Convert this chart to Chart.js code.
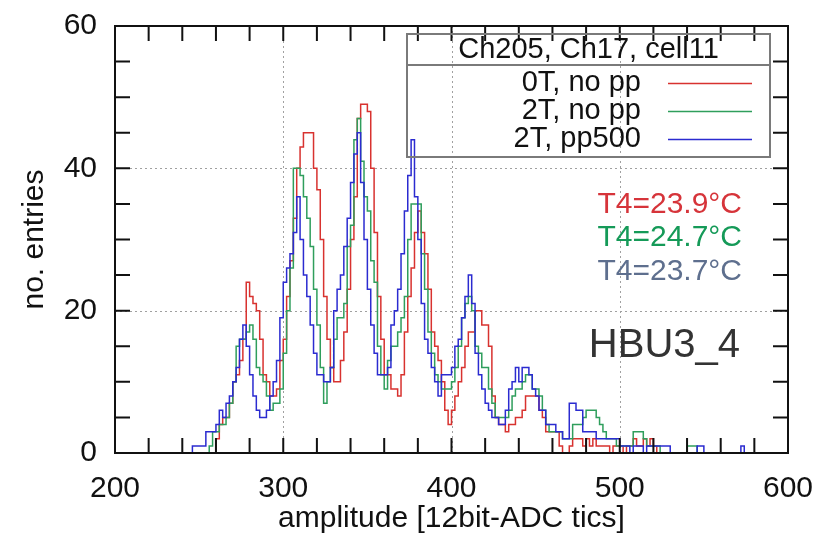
<!DOCTYPE html>
<html>
<head>
<meta charset="utf-8">
<title>HBU3_4 amplitude spectra</title>
<script src="https://cdn.jsdelivr.net/npm/chart.js@4.4.0/dist/chart.umd.min.js"></script>
<style>
  html, body { margin: 0; padding: 0; background: #fff; }
  #wrap { width: 819px; height: 537px; }
</style>
</head>
<body>
<div id="wrap"><canvas id="spectrum" width="819" height="537"></canvas></div>
<script>
// histogram binning (ADC tics)
const binStart = 244;
const binWidth = 2;

// entries per bin, first bin starts at binStart
const counts0T = [
  0, 0, 0, 0, 0, 0, 0, 0, 2, 4,
  5, 5, 7, 10, 11, 13, 16, 24, 22, 21,
  20, 16, 11, 10, 8, 8, 9, 13, 16, 22,
  27, 33, 40, 43, 45, 45, 45, 40, 37, 30,
  22, 16, 12, 10, 10, 13, 17, 23, 30, 36,
  47, 49, 49, 48, 40, 31, 22, 16, 11, 11,
  9, 9, 8, 11, 17, 22, 26, 31, 34, 31,
  28, 23, 17, 15, 13, 10, 6, 4, 6, 8,
  10, 12, 15, 17, 17, 20, 20, 18, 18, 15,
  8, 5, 4, 4, 3, 4, 4, 5, 5, 6,
  8, 8, 8, 8, 6, 5, 3, 3, 3, 3,
  1, 0, 0, 1, 2, 2, 2, 1, 2, 1,
  2, 1, 1, 1, 1, 0, 1, 1, 1, 0,
  1, 1, 2, 1, 1, 2, 1, 2, 1, 0,
  0, 0, 0, 0, 0, 0, 0, 0, 0, 0,
  0, 0, 0, 0, 0, 0, 0, 0, 0, 0,
  0, 0, 0, 0, 0, 0, 0, 0
];
const counts2T = [
  0, 0, 0, 0, 0, 0, 1, 3, 3, 4,
  4, 5, 7, 10, 15, 16, 16, 17, 18, 16,
  12, 11, 10, 8, 6, 7, 7, 9, 14, 20,
  26, 40, 40, 39, 36, 33, 29, 23, 18, 12,
  7, 10, 12, 16, 19, 19, 21, 29, 32, 44,
  47, 41, 36, 34, 27, 24, 15, 11, 9, 13,
  15, 15, 17, 19, 22, 30, 35, 35, 35, 28,
  23, 17, 14, 11, 10, 9, 9, 9, 10, 12,
  15, 19, 21, 22, 20, 15, 14, 12, 12, 9,
  7, 5, 5, 5, 5, 6, 8, 9, 9, 10,
  11, 11, 9, 9, 8, 6, 4, 3, 3, 3,
  3, 2, 2, 2, 4, 4, 4, 5, 6, 6,
  6, 5, 4, 3, 2, 2, 2, 1, 1, 1,
  1, 1, 3, 3, 3, 2, 1, 1, 1, 1,
  0, 0, 0, 0, 0, 0, 0, 0, 1, 1,
  1, 0, 0, 0, 0, 0, 0, 0, 0, 0,
  0, 0, 0, 0, 0, 0, 0, 0
];
const counts2TPP = [
  0, 1, 1, 1, 1, 3, 3, 3, 4, 6,
  5, 7, 8, 10, 12, 16, 18, 15, 11, 8,
  6, 5, 5, 6, 8, 10, 13, 19, 24, 26,
  28, 31, 36, 30, 25, 22, 18, 14, 11, 11,
  10, 10, 12, 20, 23, 25, 29, 33, 38, 42,
  45, 38, 30, 23, 18, 14, 11, 11, 11, 12,
  18, 20, 23, 28, 34, 39, 44, 36, 30, 21,
  16, 14, 12, 10, 8, 11, 11, 11, 12, 15,
  16, 19, 22, 25, 21, 14, 11, 9, 7, 6,
  5, 5, 4, 4, 6, 9, 10, 12, 10, 12,
  12, 11, 9, 8, 6, 6, 4, 4, 4, 3,
  3, 2, 2, 7, 7, 6, 6, 3, 3, 3,
  3, 2, 2, 2, 2, 2, 2, 2, 1, 1,
  1, 0, 1, 1, 1, 0, 1, 1, 1, 1,
  1, 1, 1, 0, 0, 0, 0, 0, 0, 0,
  0, 1, 1, 0, 0, 0, 0, 0, 0, 0,
  0, 0, 0, 0, 1, 0, 0, 0
];

const seriesLabels = ['0T, no pp', '2T, no pp', '2T, pp500'];
const seriesColors = ['#d8322f', '#2f9e5c', '#2b2bd0'];
const legendTitle = 'Ch205, Ch17, cell11';
const tempLabels = ['T4=23.9°C', 'T4=24.7°C', 'T4=23.7°C'];
const tempColors = ['#d6343a', '#159a58', '#5e6f8e'];
const moduleLabel = 'HBU3_4';
const gridX = [300, 400, 500];
const gridY = [20, 40];

const FONT = "'Liberation Sans', Arial, sans-serif";

function toSteps(counts) {
  const pts = counts.map((c, i) => ({ x: binStart + i * binWidth, y: c }));
  pts.push({ x: binStart + counts.length * binWidth, y: 0 });
  return pts;
}

const gnuplotFrame = {
  id: 'gnuplotFrame',
  beforeDraw(chart) {
    const c = chart.ctx;
    c.save();
    c.fillStyle = '#fff';
    c.fillRect(0, 0, chart.width, chart.height);
    c.restore();
  },
  beforeDatasetsDraw(chart) {
    const c = chart.ctx, a = chart.chartArea;
    const xs = chart.scales.x, ys = chart.scales.y;
    c.save();
    c.strokeStyle = '#a0a0a0';
    c.lineWidth = 1;
    c.setLineDash([2, 3]);
    gridX.forEach(v => {
      const px = Math.round(xs.getPixelForValue(v)) + 0.5;
      c.beginPath(); c.moveTo(px, a.top); c.lineTo(px, a.bottom); c.stroke();
    });
    gridY.forEach(v => {
      const py = Math.round(ys.getPixelForValue(v)) + 0.5;
      c.beginPath(); c.moveTo(a.left, py); c.lineTo(a.right, py); c.stroke();
    });
    c.restore();
  },
  afterDatasetsDraw(chart) {
    const c = chart.ctx, a = chart.chartArea;
    const xs = chart.scales.x, ys = chart.scales.y;
    const tick = 15;
    c.save();
    c.strokeStyle = '#111';
    c.lineWidth = 2;
    c.beginPath();
    for (let v = 200; v <= 600; v += 20) {
      const px = xs.getPixelForValue(v);
      c.moveTo(px, a.bottom); c.lineTo(px, a.bottom - tick);
      c.moveTo(px, a.top); c.lineTo(px, a.top + tick);
    }
    for (let v = 0; v <= 60; v += 5) {
      const py = ys.getPixelForValue(v);
      c.moveTo(a.left, py); c.lineTo(a.left + tick, py);
      c.moveTo(a.right, py); c.lineTo(a.right - tick, py);
    }
    c.stroke();
    c.strokeRect(a.left, a.top, a.right - a.left, a.bottom - a.top);

    // key box
    const bx0 = a.right - 18, bx1 = 407, by0 = a.top + 8, by1 = 157;
    c.strokeStyle = '#7a7a7a';
    c.lineWidth = 2;
    c.strokeRect(bx1, by0, bx0 - bx1, by1 - by0);
    c.beginPath(); c.moveTo(bx1, 65); c.lineTo(bx0, 65); c.stroke();
    c.fillStyle = '#111';
    c.font = '29px ' + FONT;
    c.textBaseline = 'middle';
    c.textAlign = 'center';
    c.fillText(legendTitle, (bx0 + bx1) / 2, 50);
    const rows = [83, 111, 139];
    chart.data.datasets.forEach((ds, i) => {
      c.textAlign = 'right';
      c.fillStyle = '#111';
      c.fillText(ds.label, 641, rows[i]);
      c.strokeStyle = ds.borderColor;
      c.lineWidth = 1.5;
      c.beginPath(); c.moveTo(668, rows[i] + 0.5); c.lineTo(752, rows[i] + 0.5); c.stroke();
    });

    // temperatures and module name
    c.font = '30px ' + FONT;
    c.textAlign = 'right';
    [205, 238, 272].forEach((y, i) => {
      c.fillStyle = tempColors[i];
      c.fillText(tempLabels[i], 742, y);
    });
    c.fillStyle = '#333';
    c.font = '40px ' + FONT;
    c.fillText(moduleLabel, 740, 346);
    c.restore();
  }
};

new Chart(document.getElementById('spectrum'), {
  type: 'line',
  data: {
    datasets: [
      { label: seriesLabels[0], data: toSteps(counts0T), borderColor: seriesColors[0], order: 2 },
      { label: seriesLabels[1], data: toSteps(counts2T), borderColor: seriesColors[1], order: 1 },
      { label: seriesLabels[2], data: toSteps(counts2TPP), borderColor: seriesColors[2], order: 0 }
    ]
  },
  options: {
    responsive: false,
    animation: false,
    devicePixelRatio: 1,
    layout: { padding: { top: 26, right: 31, left: 0, bottom: 0 } },
    elements: {
      line: { borderWidth: 1.5, stepped: 'before', tension: 0, fill: false },
      point: { radius: 0, hoverRadius: 0 }
    },
    plugins: { legend: { display: false }, tooltip: { enabled: false } },
    scales: {
      x: {
        type: 'linear',
        min: 200,
        max: 600,
        afterFit: s => { s.height = 84; s.paddingLeft = 0; s.paddingRight = 0; },
        grid: { display: false, drawTicks: false },
        border: { display: false },
        ticks: { stepSize: 100, color: '#111', padding: 18, maxRotation: 0, font: { family: FONT, size: 30 } },
        title: { display: true, text: 'amplitude [12bit-ADC tics]', color: '#111', padding: { top: 0, bottom: 0 }, font: { family: FONT, size: 30 } }
      },
      y: {
        min: 0,
        max: 60,
        afterFit: s => { s.width = 115; s.paddingTop = 0; s.paddingBottom = 0; },
        grid: { display: false, drawTicks: false },
        border: { display: false },
        ticks: { stepSize: 20, color: '#111', padding: 18, font: { family: FONT, size: 30 } },
        title: { display: true, text: 'no. entries', color: '#111', padding: { top: 17, bottom: 0 }, font: { family: FONT, size: 30 } }
      }
    }
  },
  plugins: [gnuplotFrame]
});
</script>
</body>
</html>
